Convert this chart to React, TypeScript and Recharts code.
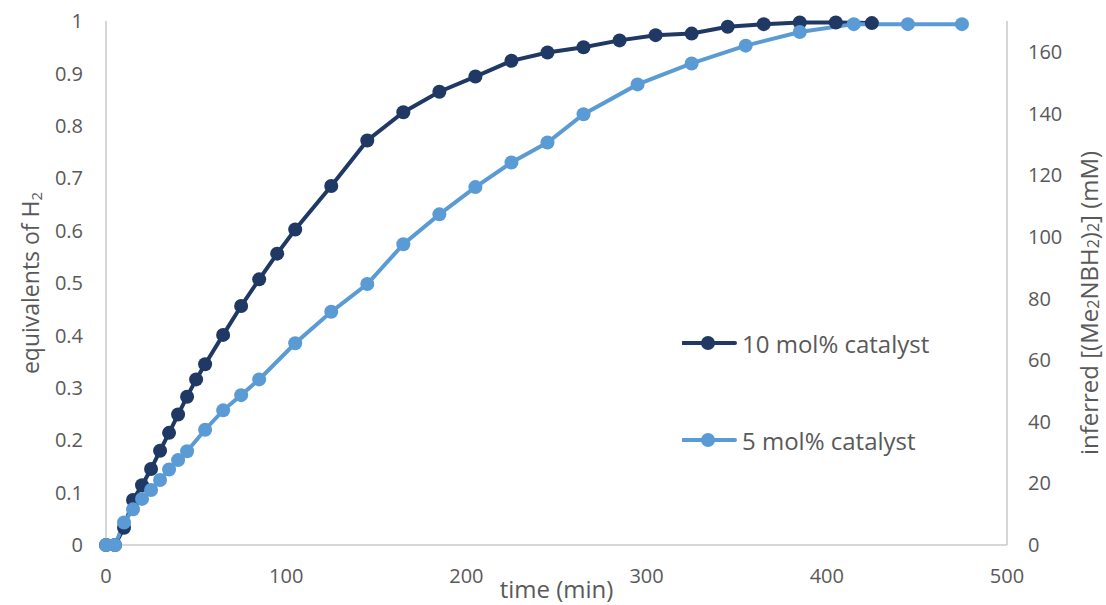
import React from "react"
import { LineChart, Line, XAxis, YAxis, Legend } from "recharts"

// time (min) and H2 equivalents
const TIME_10 = [0, 5, 10, 15, 20, 25, 30, 35, 40, 45, 50, 55, 65, 75, 85, 95, 105, 125, 145, 165, 185, 205, 225, 245, 265, 285, 305, 325, 345, 365, 385, 405, 425]
const EQ_10 = [0, 0, 0.033, 0.086, 0.114, 0.145, 0.18, 0.214, 0.249, 0.283, 0.316, 0.345, 0.401, 0.456, 0.507, 0.556, 0.602, 0.685, 0.772, 0.826, 0.865, 0.894, 0.924, 0.94, 0.95, 0.963, 0.973, 0.976, 0.989, 0.994, 0.997, 0.997, 0.996]

const TIME_5 = [0, 5, 10, 15, 20, 25, 30, 35, 40, 45, 55, 65, 75, 85, 105, 125, 145, 165, 185, 205, 225, 245, 265, 295, 325, 355, 385, 415, 445, 475]
const EQ_5 = [0, 0, 0.043, 0.068, 0.088, 0.105, 0.124, 0.144, 0.162, 0.179, 0.22, 0.257, 0.286, 0.316, 0.385, 0.445, 0.498, 0.574, 0.631, 0.683, 0.73, 0.768, 0.822, 0.879, 0.919, 0.953, 0.979, 0.994, 0.994, 0.994]

const X_TICKS = [0, 100, 200, 300, 400, 500]
const LEFT_TICKS = [0, 0.1, 0.2, 0.3, 0.4, 0.5, 0.6, 0.7, 0.8, 0.9, 1]
const RIGHT_TICKS = [0, 20, 40, 60, 80, 100, 120, 140, 160]

const series10 = TIME_10.map((t, i) => ({ t, eq: EQ_10[i] }))
const series5 = TIME_5.map((t, i) => ({ t, eq: EQ_5[i] }))

const FONT = "'Open Sans', sans-serif"
const TEXT = "#595959"
const AXIS = "#c9c9c9"
const DARK = "#1F3864"
const LIGHT = "#5B9BD5"

const tickStyle = { fill: TEXT, fontSize: 20, fontFamily: FONT }

// eslint-disable-next-line @typescript-eslint/no-explicit-any
const renderLegend = (props: any) => {
  const items = props.payload || []
  return (
    <div style={{ fontFamily: FONT, color: TEXT, fontSize: 24 }}>
      {/* eslint-disable-next-line @typescript-eslint/no-explicit-any */}
      {items.map((it: any, i: number) => (
        <div key={it.value} style={{ display: "flex", alignItems: "center", height: 28, marginBottom: i === 0 ? 69 : 0 }}>
          <svg width={60} height={20}>
            <line x1={1} x2={53} y1={10} y2={10} stroke={it.color} strokeWidth={4} strokeLinecap="round" />
            <circle cx={26} cy={10} r={7} fill={it.color} />
          </svg>
          <span style={{ whiteSpace: "nowrap" }}>{it.value}</span>
        </div>
      ))}
    </div>
  )
}

export default function App() {
  return (
    <div style={{ position: "absolute", left: 0, top: 0, background: "#fff" }}>
      <LineChart width={1106} height={605} margin={{ top: 21, right: 0, bottom: 0, left: 0 }}>
        <XAxis
          dataKey="t"
          type="number"
          domain={[0, 500]}
          ticks={X_TICKS}
          allowDuplicatedCategory={false}
          height={60}
          stroke={AXIS}
          strokeWidth={1.5}
          tickLine={false}
          tickSize={0}
          tickMargin={24}
          tick={tickStyle}
          label={{
            // eslint-disable-next-line @typescript-eslint/no-explicit-any
            content: (p: any) => (
              <text x={p.viewBox.x + p.viewBox.width / 2} y={p.viewBox.y + 53} textAnchor="middle" fill={TEXT} fontSize={24} fontFamily={FONT}>
                time (min)
              </text>
            ),
          }}
        />
        <YAxis
          yAxisId="left"
          domain={[0, 1]}
          ticks={LEFT_TICKS}
          width={106}
          stroke={AXIS}
          strokeWidth={1.5}
          tickLine={false}
          tickSize={0}
          tickMargin={23}
          tick={tickStyle}
          label={{
            // eslint-disable-next-line @typescript-eslint/no-explicit-any
            content: (p: any) => {
              const cx = p.viewBox.x + 30
              const cy = p.viewBox.y + p.viewBox.height / 2
              return (
                <text x={cx} y={cy} transform={`rotate(-90, ${cx}, ${cy})`} textAnchor="middle" dominantBaseline="central" fill={TEXT} fontSize={23} fontFamily={FONT}>
                  equivalents of H<tspan fontSize={15} dy={6}>2</tspan>
                </text>
              )
            },
          }}
        />
        <YAxis
          yAxisId="right"
          orientation="right"
          type="number"
          domain={[0, 170]}
          allowDataOverflow
          ticks={RIGHT_TICKS}
          width={99}
          stroke={AXIS}
          strokeWidth={1.5}
          tickLine={false}
          tickSize={0}
          tickMargin={21}
          tick={tickStyle}
          label={{
            // eslint-disable-next-line @typescript-eslint/no-explicit-any
            content: (p: any) => {
              const cx = p.viewBox.x + 81
              const cy = p.viewBox.y + 282
              return (
                <text x={cx} y={cy} transform={`rotate(-90, ${cx}, ${cy})`} textAnchor="middle" dominantBaseline="central" fill={TEXT} fontSize={24} fontFamily={FONT}>
                  inferred [(Me<tspan fontSize={16} dy={5}>2</tspan>
                  <tspan dy={-5}>NBH</tspan>
                  <tspan fontSize={16} dy={5}>2</tspan>
                  <tspan dy={-5}>)</tspan>
                  <tspan fontSize={16} dy={5}>2</tspan>
                  <tspan dy={-5}>] (mM)</tspan>
                </text>
              )
            },
          }}
        />
        <Legend
          layout="horizontal"
          verticalAlign="middle"
          align="center"
          content={renderLegend}
          wrapperStyle={{ left: 682, top: 329, width: 320 }}
        />
        <Line
          data={series10}
          dataKey="eq"
          name="10 mol% catalyst"
          yAxisId="left"
          type="linear"
          stroke={DARK}
          strokeWidth={4}
          dot={{ r: 7, fill: DARK, stroke: DARK, strokeWidth: 0 }}
          activeDot={false}
          isAnimationActive={false}
        />
        <Line
          data={series5}
          dataKey="eq"
          name="5 mol% catalyst"
          yAxisId="left"
          type="linear"
          stroke={LIGHT}
          strokeWidth={4}
          dot={{ r: 7, fill: LIGHT, stroke: LIGHT, strokeWidth: 0 }}
          activeDot={false}
          isAnimationActive={false}
        />
      </LineChart>
    </div>
  )
}
